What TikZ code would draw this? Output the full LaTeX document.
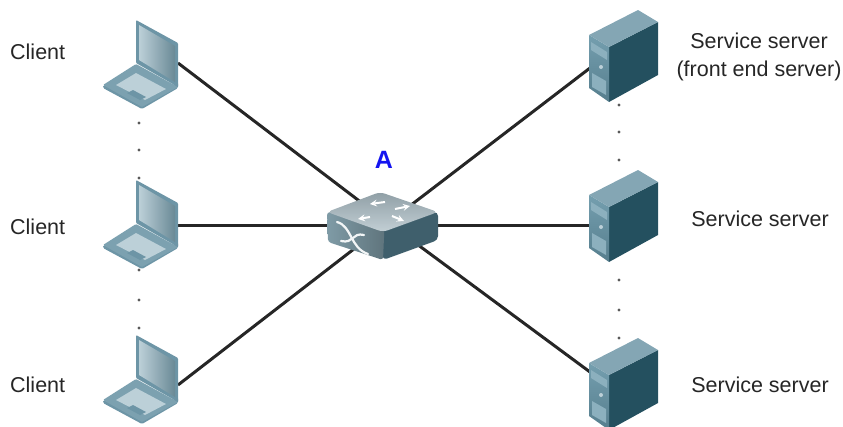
\documentclass[tikz,border=0pt]{standalone}
\usepackage{fontspec}
\setmainfont{Liberation Sans}
\usetikzlibrary{calc}
\definecolor{lapA}{HTML}{9DBAC6}
\definecolor{lapB}{HTML}{7CA1B0}
\definecolor{lapC}{HTML}{BCD0D8}
\definecolor{lapD}{HTML}{6D95A6}
\definecolor{srvDark}{HTML}{24505F}
\definecolor{srvTop}{HTML}{84A6B4}
\definecolor{srvFront}{HTML}{6594A6}
\definecolor{srvPanel}{HTML}{8CB0BE}
\definecolor{swTop}{HTML}{A9BBC3}
\definecolor{swL}{HTML}{7F9BA6}
\definecolor{swR}{HTML}{3F5F6C}
\definecolor{blueA}{HTML}{1414F0}
\tikzset{
  x=1pt,y=-1pt,
  lbl/.style={font=\fontsize{21.5}{28}\selectfont,text=black!85,inner sep=0pt,align=center},
  link/.style={draw=black!85,line width=3pt},
  anchorbox/.style={inner sep=0pt,minimum width=#1,minimum height=4pt},
  dotm/.style={fill=black!65,inner sep=0pt,minimum size=3.2pt,circle},
  laptop/.pic={
    \fill[lapD,rounded corners=1.5pt] (-33,65) -- (-33,68) -- (6,89) -- (42,68) -- (42,62) -- (6,82) -- cycle;
    \fill[lapB,rounded corners=1pt] (-33,65) -- (0,44) -- (42,67) -- (6,87) -- cycle;
    \fill[lapC] (-20,65) -- (0,53) -- (30,69) -- (9,80) -- cycle;
    \fill[lapD] (-9,73) -- (-3,70) -- (10,77) -- (4,80) -- cycle;
    \fill[lapD,rounded corners=1pt] (0,0) -- (42,23) -- (42,67) -- (0,43) -- cycle;
    \shade[left color=lapC,right color=lapB!85!black] (3,5) -- (39,26) -- (39,62) -- (3,40) -- cycle;
  },
  server/.pic={
    \fill[srvDark] (20,37) -- (69,12) -- (69,65) -- (20,92) -- cycle;
    \shade[top color=srvFront!90!white,bottom color=srvFront!85!black] (0,25) -- (20,37) -- (20,92) -- (0,78) -- cycle;
    \fill[srvTop] (0,25) -- (49,0) -- (69,12) -- (20,37) -- cycle;
    \fill[srvPanel] (2,32) -- (18,42) -- (18,50) -- (2,40) -- cycle;
    \fill[srvPanel] (3,63) -- (17,71) -- (17,85) -- (3,77) -- cycle;
    \fill[lapC] (12,57) circle (2);
  },
}
\begin{document}
\begin{tikzpicture}
\useasboundingbox (0,0) rectangle (843,426);
% invisible endpoints
\node[anchorbox=2pt] (l1) at (178,63) {};
\node[anchorbox=2pt] (l2) at (178,225) {};
\node[anchorbox=2pt] (l3) at (178,385) {};
\node[anchorbox=2pt] (s1) at (590,68) {};
\node[anchorbox=2pt] (s2) at (590,225) {};
\node[anchorbox=2pt] (s3) at (590,372) {};
\coordinate (hubA) at (383,219);
\coordinate (hubB) at (383,226.5);
\coordinate (hubC) at (383,225);
\draw[link] (l1.center) -- (hubA);
\draw[link] (l2.center) -- (hubC);
\draw[link] (l3.center) -- (hubB);
\draw[link] (s1.center) -- (hubB);
\draw[link] (s2.center) -- (hubC);
\draw[link] (s3.center) -- (hubA);
% devices
\pic at (136,20) {laptop};
\pic at (136,180) {laptop};
\pic at (136,335) {laptop};
\pic at (589,10) {server};
\pic at (589,170) {server};
\pic at (589,338) {server};
% switch
\fill[swR,rounded corners=4pt] (375,215) -- (438,212) -- (438,240) -- (383,260) -- cycle;
\shade[left color=swL,right color=swL!75!black,rounded corners=3pt] (327,212) -- (385,215) -- (383,260) -- (328,242) -- cycle;
\shade[top color=swTop!85!black,bottom color=swTop!70!white,rounded corners=5pt] (327,212) -- (380,192) -- (438,212) -- (383,232) -- cycle;
\foreach \a/\b/\c/\d in {385/202/370/204,395/209/410/206,370/217/358/219,392/216/404/221}
  \draw[white,line width=2pt,->,>=stealth] (\a,\b) -- (\c,\d);
\draw[white!90!swL,line width=2.2pt,line cap=round] (337,222) .. controls (352,226) and (350,248) .. (368,254);
\draw[white!90!swL,line width=2.2pt,line cap=round] (341,241) .. controls (354,244) and (352,232) .. (364,235);
\node[font=\fontsize{25}{29}\bfseries\selectfont,text=blueA,inner sep=0pt] (lblA) at (384,160) {A};
% labels
\node[lbl,anchor=west] (c1) at (10,52) {Client};
\node[lbl,anchor=west] (c2) at (10,227) {Client};
\node[lbl,anchor=west] (c3) at (10,385) {Client};
\node[lbl] (t1) at (759,57) {Service server\\(front end server)};
\node[lbl] (t2) at (760,219) {Service server};
\node[lbl] (t3) at (760,385) {Service server};
% dots
\foreach \x/\y in {139/123,139/150,139/178,139/270,139/300,139/328,619/105,619/132,619/160,619/280,619/310,619/338}
  \node[dotm] at (\x,\y) {};
\end{tikzpicture}
\end{document}
